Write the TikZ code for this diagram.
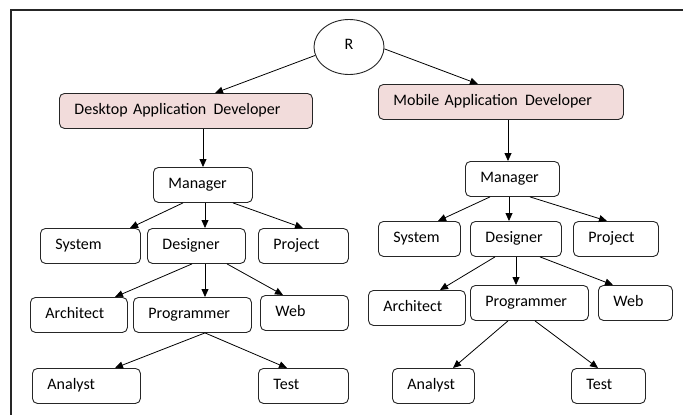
\documentclass[tikz,border=0pt]{standalone}
\usepackage{fontspec}
\setmainfont{Carlito}
\usetikzlibrary{arrows.meta,shapes.geometric}
\definecolor{devpink}{HTML}{F2DCDB}
\definecolor{inkline}{HTML}{262626}

\begin{document}
\begin{tikzpicture}[x=1pt,y=-1pt,
  every node/.style={font=\fontsize{16}{19}\selectfont},
  box/.style={draw=inkline, line width=0.9pt, rounded corners=5pt, fill=white,
    anchor=north west, align=left, inner xsep=15pt, inner ysep=0pt,
    minimum height=35pt, text height=11pt, text depth=4pt},
  devbox/.style={box, fill=devpink},
  arr/.style={draw=black, line width=0.8pt, -{Triangle[length=8pt,width=7pt]}}
]
\useasboundingbox (0,0) rectangle (683,415);

% frame on the top and left sides
\draw[line width=2.5pt, inkline] (683,10) -- (11,10) -- (11,415);

% root
\node[draw=inkline, line width=0.9pt, ellipse, minimum width=70pt, minimum height=55pt,
  inner sep=0pt, fill=white] (R) at (349,47) {\raisebox{5pt}{R}};

% desktop branch
\node[devbox, text width=223pt] (ldev) at (59,93) {Desktop Application\ \hspace{0.12em}Developer};
\node[box, text width=69pt] (lman) at (153,167) {Manager};
\node[box, text width=70pt] (lsys) at (40,228) {System};
\node[box, text width=68pt] (ldes) at (147,228) {Designer};
\node[box, text width=60pt] (lpro) at (258,228) {Project};
\node[box, text width=67pt] (larc) at (30,297) {Architect};
\node[box, text width=88pt] (lprg) at (133,297) {Programmer};
\node[box, text width=58pt] (lweb) at (260,295) {Web};
\node[box, text width=78pt] (lana) at (32,368) {Analyst};
\node[box, text width=60pt] (ltst) at (258,368) {Test};

% mobile branch
\node[devbox, text width=215pt] (rdev) at (378,84) {Mobile Application\ \hspace{0.12em}Developer};
\node[box, text width=64pt] (rman) at (465,161) {Manager};
\node[box, text width=52pt] (rsys) at (378,221) {System};
\node[box, text width=61pt] (rdes) at (470,221) {Designer};
\node[box, text width=55pt] (rpro) at (573,221) {Project};
\node[box, text width=67pt] (rarc) at (368,290) {Architect};
\node[box, text width=88pt] (rprg) at (470,285) {Programmer};
\node[box, text width=44pt] (rweb) at (598,285) {Web};
\node[box, text width=52pt] (rana) at (392,368) {Analyst};
\node[box, text width=44pt] (rtst) at (571,368) {Test};

% connectors
\draw[arr] (R.194) -- ([xshift=156pt]ldev.north west);
\draw[arr] (R.357) -- ([xshift=100pt]rdev.north west);

\draw[arr] ([xshift=144pt]ldev.south west) -- ([xshift=50pt]lman.north west);
\draw[arr] ([xshift=30pt]lman.south west) -- ([xshift=90pt]lsys.north west);
\draw[arr] ([xshift=52pt]lman.south west) -- ([xshift=58pt]ldes.north west);
\draw[arr] ([xshift=80pt]lman.south west) -- ([xshift=45pt]lpro.north west);
\draw[arr] ([xshift=45pt]ldes.south west) -- ([xshift=85pt]larc.north west);
\draw[arr] ([xshift=58pt]ldes.south west) -- ([xshift=72pt]lprg.north west);
\draw[arr] ([xshift=80pt]ldes.south west) -- ([xshift=23pt]lweb.north west);
\draw[arr] ([xshift=72pt]lprg.south west) -- ([xshift=83pt]lana.north west);
\draw[arr] ([xshift=72pt]lprg.south west) -- ([xshift=29pt]ltst.north west);

\draw[arr] ([xshift=130pt]rdev.south west) -- ([xshift=43pt]rman.north west);
\draw[arr] ([xshift=25pt]rman.south west) -- ([xshift=60pt]rsys.north west);
\draw[arr] ([xshift=44pt]rman.south west) -- ([xshift=39pt]rdes.north west);
\draw[arr] ([xshift=65pt]rman.south west) -- ([xshift=34pt]rpro.north west);
\draw[arr] ([xshift=25pt]rdes.south west) -- ([xshift=72pt]rarc.north west);
\draw[arr] ([xshift=46pt]rdes.south west) -- ([xshift=46pt]rprg.north west);
\draw[arr] ([xshift=70pt]rdes.south west) -- ([xshift=15pt]rweb.north west);
\draw[arr] ([xshift=38pt]rprg.south west) -- ([xshift=61pt]rana.north west);
\draw[arr] ([xshift=65pt]rprg.south west) -- ([xshift=27pt]rtst.north west);
\end{tikzpicture}
\end{document}
